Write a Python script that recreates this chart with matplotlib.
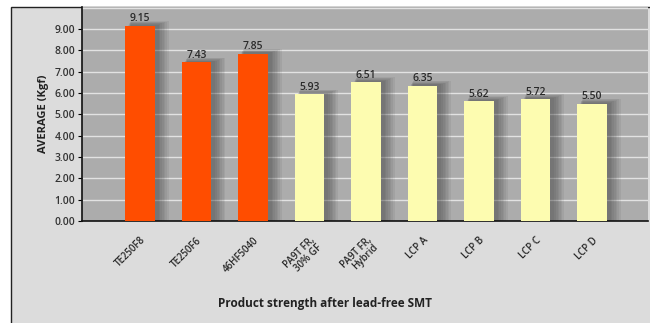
import matplotlib
matplotlib.use("Agg")
import matplotlib.pyplot as plt
from matplotlib.patches import Rectangle

categories = ["TE250F8", "TE250F6", "46HF5040", "PA9T FR,\n30% GF", "PA9T FR,\nHybrid",
              "LCP A", "LCP B", "LCP C", "LCP D"]
values = [9.15, 7.43, 7.85, 5.93, 6.51, 6.35, 5.62, 5.72, 5.50]
value_labels = ["9.15", "7.43", "7.85", "5.93", "6.51", "6.35", "5.62", "5.72", "5.50"]
bar_colors = ["#ff4d00"] * 3 + ["#fdfcb0"] * 6
y_ticks = [0, 1, 2, 3, 4, 5, 6, 7, 8, 9]

plt.rcParams["font.family"] = ["Open Sans", "DejaVu Sans"]

fig = plt.figure(figsize=(6.5, 3.23), dpi=100)
fig.patch.set_facecolor("white")

# outer panel
fig.patches.append(Rectangle((11 / 650, -0.01), 1.0, 1 - 7 / 323 + 0.01,
                             transform=fig.transFigure, facecolor="#dcdcdc",
                             edgecolor="#222222", linewidth=1.0, zorder=-5))

ax = fig.add_axes([82 / 650, 1 - 221 / 323, (648 - 82) / 650, (221 - 7) / 323])
ax.set_zorder(2)
ax.set_facecolor("#acacac")
ax.set_xlim(-1.03, 8.99)
ax.set_ylim(0, 10.03)

for y in y_ticks[1:] + [10]:
    ax.axhline(y, color="#e2e2e2", linewidth=1.0, zorder=1)

x = list(range(len(values)))
width = 0.52

# soft drop shadow around each bar, heavier on the right
for k in range(7):
    off = 0.06 + k * 0.018
    grow = 0.02 + k * 0.022
    ax.bar([xi + off for xi in x], [v + 0.05 + k * 0.03 for v in values],
           width=width + grow, color="#2e2e2e", alpha=0.075, zorder=2, linewidth=0)

ax.bar(x, values, width=width, color=bar_colors, zorder=3, linewidth=0)

for xi, v, lab in zip(x, values, value_labels):
    ax.text(xi, v + 0.06, lab, ha="center", va="bottom", fontsize=7.5,
            fontweight="semibold", color="#2a2a2a", zorder=4)

ax.set_yticks(y_ticks)
ax.set_yticklabels([f"{t:.2f}" for t in y_ticks], fontsize=7.5, color="#333333",
                   fontweight="semibold")
ax.tick_params(axis="y", direction="out", length=3, width=0.8, pad=2)
ax.set_xticks(x)
ax.set_xticklabels(categories, rotation=45, ha="right", rotation_mode="anchor",
                   fontsize=7, color="#2a2a2a", linespacing=0.85,
                   fontweight="semibold")
ax.tick_params(axis="x", length=0, pad=10)

for side in ["top", "right"]:
    ax.spines[side].set_visible(False)
ax.spines["left"].set_color("#111111")
ax.spines["bottom"].set_color("#111111")
ax.spines["left"].set_linewidth(1.2)
ax.spines["bottom"].set_linewidth(1.2)

ax.set_ylabel("AVERAGE (Kgf)", fontsize=8, fontweight="bold", color="#222222",
              labelpad=4)
fig.text(0.5, 1 - 303 / 323, "Product strength after lead-free SMT", ha="center",
         va="center", fontsize=8.5, fontweight="bold", color="#222222")

fig.savefig("out.png", dpi=100)
